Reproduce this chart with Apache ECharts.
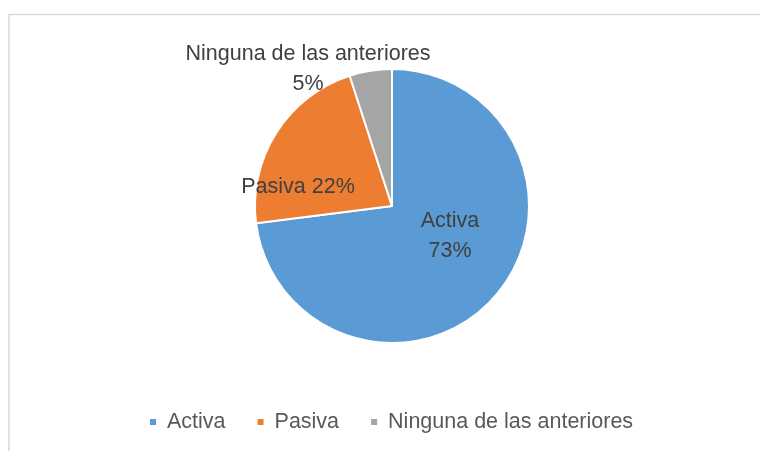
<!DOCTYPE html>
<html>
<head>
<meta charset="utf-8">
<script src="https://cdn.jsdelivr.net/npm/echarts@6/dist/echarts.min.js"></script>
<style>
  html, body { margin: 0; padding: 0; background: #fff; }
  #chart { width: 760px; height: 451px; }
</style>
</head>
<body>
<div id="chart"></div>
<script>
var categories = ['Activa', 'Pasiva', 'Ninguna de las anteriores']
var values = [73, 22, 5]
var colors = ['#5b9bd5', '#ed7d31', '#a5a5a5']

// where each slice label sits (px)
var labelSpots = [
  { x: 450, y: 236 },
  { x: 298, y: 187 },
  { x: 308, y: 69 }
]

var chart = echarts.init(document.getElementById('chart'))

var data = []
for (var i = 0; i < categories.length; i++) {
  data.push({
    name: categories[i],
    value: values[i],
    itemStyle: { color: colors[i] }
  })
}

var font = 'Liberation Sans'

chart.setOption({
  animation: false,
  backgroundColor: '#fff',
  graphic: [{
    type: 'rect',
    shape: { x: 9, y: 14.5, width: 800, height: 500 },
    style: { fill: 'none', stroke: '#d9d9d9', lineWidth: 1.5 }
  }],
  legend: {
    top: 406,
    left: 143,
    icon: 'rect',
    itemWidth: 8,
    itemHeight: 8,
    itemGap: 30,
    textStyle: { fontFamily: font, fontSize: 21.5, color: '#595959', padding: [0, 0, 0, 5] },
    data: categories
  },
  series: [{
    type: 'pie',
    center: [392, 206],
    radius: [0, 137],
    startAngle: 90,
    clockwise: true,
    itemStyle: { borderColor: '#fff', borderWidth: 2 },
    label: {
      show: true,
      position: 'inside',
      fontFamily: font,
      fontSize: 21.5,
      lineHeight: 30,
      color: '#404040',
      formatter: function (p) {
        if (p.dataIndex === 1) return p.name + ' ' + p.value + '%'
        return p.name + '\n' + p.value + '%'
      }
    },
    labelLine: { show: false },
    labelLayout: function (params) {
      var s = labelSpots[params.dataIndex]
      return { x: s.x, y: s.y, align: 'center', verticalAlign: 'middle' }
    },
    data: data
  }]
})
</script>
</body>
</html>
